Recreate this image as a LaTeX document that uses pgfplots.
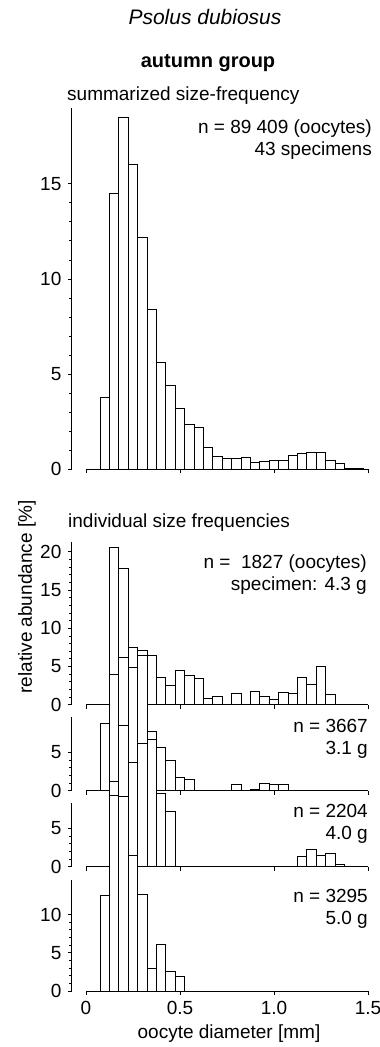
\documentclass[border=0pt]{standalone}
\usepackage{fontspec}
\setmainfont{Liberation Sans}
\usepackage{pgfplots}
\pgfplotsset{compat=1.18}
\newcommand{\fs}{\fontsize{19bp}{22bp}\selectfont}
\pgfplotsset{
  panel/.style={
    scale only axis, width=296.1bp,
    xmin=-0.075, xmax=1.5, ymin=0,
    axis x line*=bottom, axis y line*=left,
    x axis line style={draw=none},
    y axis line style={-, line width=0.9bp},
    xtick={0,0.5,1,1.5}, xticklabels={},
    tick align=outside,
    major tick length=4bp, minor tick length=2.5bp,
    tick style={black, line width=0.9bp},
    minor y tick num=4,
    tick label style={font=\fs},
    /pgf/number format/assume math mode=true,
    clip=false,
    ybar, bar width=0.05, bar shift=0pt,
    anchor=south west,
  },
  hist/.style={draw=black, fill=white, line width=0.9bp},
}
\begin{document}
\fs
\begin{tikzpicture}
\path[use as bounding box] (0,0) rectangle (380bp,-1047bp);

% summarized
\begin{axis}[panel, at={(71.9bp,-469.3bp)}, height=361.6bp, ymax=19, ytick={0,5,10,15}]
\draw[line width=0.9bp] (axis cs:0,0) -- (axis cs:1.5,0);
\addplot[hist] coordinates {
(0.10,3.8) (0.15,14.5) (0.20,18.5) (0.25,16.0) (0.30,12.2) (0.35,8.4)
(0.40,5.6) (0.45,4.4) (0.50,3.2) (0.55,2.35) (0.60,2.2) (0.65,1.15)
(0.70,0.68) (0.75,0.56) (0.80,0.56) (0.85,0.63) (0.90,0.37) (0.95,0.42)
(1.00,0.46) (1.05,0.44) (1.10,0.72) (1.15,0.81) (1.20,0.88) (1.25,0.88)
(1.30,0.49) (1.35,0.32) (1.40,0.05) (1.45,0.02)};
\end{axis}

% specimen 4.3 g
\begin{axis}[panel, at={(71.9bp,-704.7bp)}, height=162.7bp, ymax=21.3, ytick={0,5,10,15,20}]
\draw[line width=0.9bp] (axis cs:0,0) -- (axis cs:1.5,0);
\addplot[hist] coordinates {
(0.15,20.6) (0.20,17.9) (0.25,7.5) (0.30,7.1) (0.35,6.5) (0.40,3.6)
(0.45,2.5) (0.50,4.5) (0.55,3.8) (0.60,3.5) (0.65,0.85) (0.70,1.1)
(0.80,1.5) (0.90,1.8) (0.95,1.1) (1.00,0.7) (1.05,1.6) (1.10,1.5)
(1.15,3.6) (1.20,2.6) (1.25,5.0) (1.30,1.3)};
\end{axis}

% specimen 3.1 g
\begin{axis}[panel, at={(71.9bp,-790.7bp)}, height=74.1bp, ymax=9.7, ytick={0,5}]
\draw[line width=0.9bp] (axis cs:0,0) -- (axis cs:1.5,0);
\addplot[hist] coordinates {
(0.10,8.8) (0.15,15.2) (0.20,17.5) (0.25,16.2) (0.30,17.7) (0.35,7.8)
(0.40,5.7) (0.45,4.0) (0.50,1.8) (0.55,1.5) (0.80,0.8) (0.90,0.15)
(0.95,1.0) (1.00,0.8) (1.05,0.8)};
\end{axis}

% specimen 4.0 g
\begin{axis}[panel, at={(71.9bp,-866.7bp)}, height=63.4bp, ymax=8.3, ytick={0,5}]
\draw[line width=0.9bp] (axis cs:0,0) -- (axis cs:1.5,0);
\addplot[hist] coordinates {
(0.15,11.1) (0.20,18.5) (0.25,13.6) (0.30,16.2) (0.35,16.65) (0.40,9.6)
(0.45,7.3) (1.15,1.3) (1.20,2.3) (1.25,1.5) (1.30,1.8) (1.35,0.3)};
\end{axis}

% specimen 5.0 g
\begin{axis}[panel, at={(71.9bp,-991bp)}, height=110.8bp, ymax=14.5, ytick={0,5,10},
  xticklabels={0,0.5,1.0,1.5}]
\draw[line width=0.9bp] (axis cs:0,0) -- (axis cs:1.5,0);
\addplot[hist] coordinates {
(0.10,12.5) (0.15,25.6) (0.20,25.4) (0.25,17.8) (0.30,12.6) (0.35,3.0)
(0.40,6.1) (0.45,2.6) (0.50,1.9)};
\end{axis}

% texts
\node[font=\fontsize{21bp}{24bp}\selectfont\itshape] at (205bp,-17bp) {Psolus dubiosus};
\node[font=\fontsize{20bp}{23bp}\selectfont\bfseries] at (208bp,-63bp) {autumn group};
\node[anchor=west, inner sep=0pt] at (67bp,-96bp) {summarized size-frequency};
\node[anchor=east, inner sep=0pt, align=right] at (372bp,-140bp) {n = 89 409 (oocytes)\\43 specimens};
\node[anchor=west, inner sep=0pt] at (68bp,-523bp) {individual size frequencies};
\node[anchor=east, inner sep=0pt, align=right] at (367bp,-575bp) {n = \ 1827 (oocytes)\\specimen: 4.3 g};
\node[anchor=east, inner sep=0pt, align=right] at (368bp,-739bp) {n = 3667\\3.1 g};
\node[anchor=east, inner sep=0pt, align=right] at (368bp,-824bp) {n = 2204\\4.0 g};
\node[anchor=east, inner sep=0pt, align=right] at (368bp,-909bp) {n = 3295\\5.0 g};
\node[rotate=90] at (27bp,-597bp) {relative abundance [\%]};
\node at (229bp,-1034bp) {oocyte diameter [mm]};
\end{tikzpicture}
\end{document}
